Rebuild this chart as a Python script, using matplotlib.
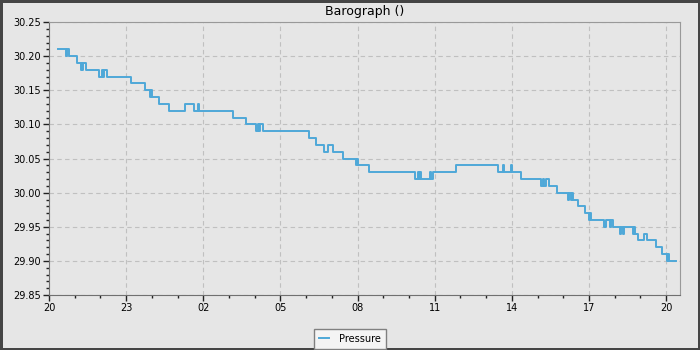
import matplotlib
matplotlib.use('Agg')
import matplotlib.pyplot as plt
import matplotlib.dates as mdates
from datetime import datetime, timedelta

# hours after 20:00 where each new reading starts, and the reading (inHg)
hours = [0.34, 0.68, 0.71, 0.77, 1.07, 1.25, 1.28, 1.30, 1.34, 1.42,
         1.94, 2.06, 2.10, 2.14, 2.24, 3.19, 3.74, 3.92, 3.97, 4.01,
         4.26, 4.65, 5.28, 5.65, 5.79, 5.84, 7.17, 7.67, 8.07, 8.11,
         8.16, 8.22, 8.33, 10.11, 10.40, 10.68, 10.84, 11.04, 11.43, 11.93,
         11.98, 12.03, 12.44, 14.22, 14.35, 14.39, 14.44, 14.48, 14.83, 14.87,
         14.93, 15.84, 17.46, 17.66, 17.70, 17.98, 18.02, 18.35, 19.12, 19.20,
         19.26, 19.34, 19.46, 19.74, 20.19, 20.24, 20.29, 20.34, 20.38, 20.58,
         20.86, 21.01, 21.04, 21.08, 21.58, 21.65, 21.81, 21.85, 21.92, 22.20,
         22.26, 22.33, 22.38, 22.72, 22.76, 22.80, 22.91, 23.14, 23.26, 23.60,
         23.84, 24.03, 24.08, 24.12, 24.40]
pressure = [30.21, 30.20, 30.21, 30.20, 30.19, 30.18, 30.19, 30.18, 30.19, 30.18,
            30.17, 30.18, 30.17, 30.18, 30.17, 30.16, 30.15, 30.14, 30.15, 30.14,
            30.13, 30.12, 30.13, 30.12, 30.13, 30.12, 30.11, 30.10, 30.09, 30.10,
            30.09, 30.10, 30.09, 30.08, 30.07, 30.06, 30.07, 30.06, 30.05, 30.04,
            30.05, 30.04, 30.03, 30.02, 30.03, 30.02, 30.03, 30.02, 30.03, 30.02,
            30.03, 30.04, 30.03, 30.04, 30.03, 30.04, 30.03, 30.02, 30.01, 30.02,
            30.01, 30.02, 30.01, 30.00, 29.99, 30.00, 29.99, 30.00, 29.99, 29.98,
            29.97, 29.96, 29.97, 29.96, 29.95, 29.96, 29.95, 29.96, 29.95, 29.94,
            29.95, 29.94, 29.95, 29.94, 29.95, 29.94, 29.93, 29.94, 29.93, 29.92,
            29.91, 29.90, 29.91, 29.90, 29.90]

start = datetime(2024, 5, 20, 20, 0)
times = [start + timedelta(hours=h) for h in hours]

bg = '#e6e6e6'
fig = plt.figure(figsize=(7, 3.5), dpi=100, facecolor=bg)
fig.patch.set_edgecolor('#454545')
fig.patch.set_linewidth(3.5)
ax = fig.add_axes([0.07, 0.157, 0.901, 0.78], facecolor=bg)

ax.step(times, pressure, where='post', color='#4ea8d8', linewidth=1.4, label='Pressure')

ax.set_xlim(start, start + timedelta(hours=24.53))
ax.set_ylim(29.85, 30.25)
ax.set_yticks([29.85, 29.90, 29.95, 30.00, 30.05, 30.10, 30.15, 30.20, 30.25])
ax.yaxis.set_major_formatter(plt.FormatStrFormatter('%.2f'))
ax.yaxis.set_minor_locator(plt.MultipleLocator(0.01))
ax.xaxis.set_major_locator(mdates.HourLocator(byhour=[2, 5, 8, 11, 14, 17, 20, 23]))
ax.xaxis.set_minor_locator(mdates.HourLocator())
ax.xaxis.set_major_formatter(mdates.DateFormatter('%H'))

ax.tick_params(which='major', length=4, width=1, color='#222222', labelsize=7, pad=2)
ax.tick_params(which='minor', length=2.5, width=1, color='#222222')
ax.grid(True, which='major', color='#c0c0c0', linestyle=(0, (4, 3)), linewidth=0.8)

for s in ['left', 'bottom']:
    ax.spines[s].set_color('#707070')
for s in ['top', 'right']:
    ax.spines[s].set_color('#999999')

ax.set_title('Barograph ()', fontsize=9, pad=5)

leg = fig.legend(loc='lower center', bbox_to_anchor=(0.5, -0.01), fontsize=7,
                 frameon=True, fancybox=False, handlelength=1.0, handletextpad=1.0,
                 borderpad=0.5)
leg.get_frame().set_facecolor('#f4f4f4')
leg.get_frame().set_edgecolor('#808080')
leg.get_frame().set_alpha(1)

fig.savefig('out.png', dpi=100, facecolor=bg, edgecolor=fig.get_edgecolor())
